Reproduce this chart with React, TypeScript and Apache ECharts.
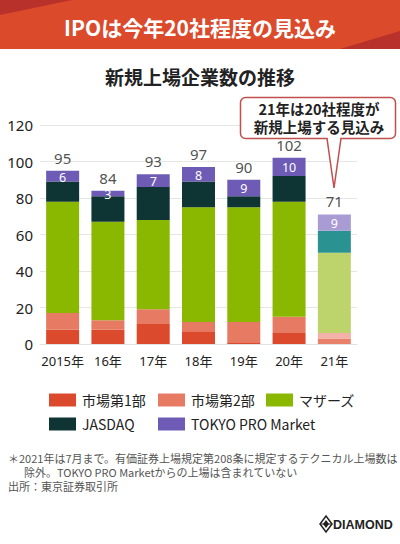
import React, { useEffect, useRef } from "react";
import * as echarts from "echarts";

const categories = ["2015年", "16年", "17年", "18年", "19年", "20年", "21年"];
const seriesNames = ["市場第1部", "市場第2部", "マザーズ", "JASDAQ", "TOKYO PRO Market"];
const first = [8, 8, 11, 7, 1, 6, 3];
const second = [9, 5, 8, 5, 11, 9, 3];
const mothers = [61, 54, 49, 63, 63, 63, 44];
const jasdaq = [11, 14, 18, 14, 6, 14, 12];
const tpm = [6, 3, 7, 8, 9, 10, 9];
const yTicks = { min: 0, max: 120, interval: 20 };

const mainColors = ["#db4a2c", "#e67a63", "#8ab800", "#0e3434", "#6d5bb5"];
const lightColors = ["#e8806a", "#f3b1a7", "#bdd46c", "#2a9392", "#a99bd4"];

const FONT = "'Noto Sans', 'Noto Sans CJK JP', sans-serif";
const JP = "'Noto Sans CJK JP', 'Noto Sans', sans-serif";

export default function App() {
  const ref = useRef<HTMLDivElement>(null);
  useEffect(() => {
    if (!ref.current) return;
    const chart = echarts.init(ref.current, undefined, { renderer: "svg" });
    const allData = [first, second, mothers, jasdaq, tpm];
    const totals = categories.map((_, i) => allData.reduce((s, arr) => s + arr[i], 0));
    const lastIdx = categories.length - 1;

    const barSeries = allData.map((arr, si) => ({
      name: seriesNames[si],
      type: "bar",
      stack: "total",
      barWidth: 33,
      itemStyle: { color: mainColors[si] },
      label:
        si === 4
          ? { show: true, position: "inside", color: "#fff", fontSize: 12.5, fontFamily: FONT, offset: [0, 1] }
          : { show: false },
      data: arr.map((v, i) =>
        i === lastIdx ? { value: v, itemStyle: { color: lightColors[si] } } : v
      ),
    }));

    const legendPos = [
      [49, 393],
      [158, 393],
      [266, 393],
      [49, 417],
      [158, 417],
    ];
    const legends = seriesNames.map((n, i) => ({
      data: [n],
      left: legendPos[i][0],
      top: legendPos[i][1],
      padding: 0,
      itemWidth: 27,
      itemHeight: 13,
      selectedMode: false,
      icon: "rect",
      textStyle: { fontSize: 14, color: "#222", fontFamily: JP, padding: [0, 0, 0, 1] },
    }));

    chart.setOption({
      animation: false,
      backgroundColor: "#fff",
      grid: { left: 40, right: 43, top: 125, bottom: 200 },
      legend: legends,
      xAxis: {
        type: "category",
        data: categories,
        axisLine: { show: true, lineStyle: { color: "#e2e2e2" } },
        axisTick: { show: false },
        axisLabel: { interval: 0, fontSize: 13, color: "#222", margin: 10, fontFamily: FONT },
      },
      yAxis: {
        type: "value",
        min: yTicks.min,
        max: yTicks.max,
        interval: yTicks.interval,
        axisLine: { show: false },
        axisTick: { show: false },
        splitLine: { lineStyle: { color: "#e6e6e6" } },
        axisLabel: { fontSize: 15, color: "#222", margin: 7, fontFamily: FONT },
      },
      series: [
        ...barSeries,
        {
          name: "total",
          type: "scatter",
          symbolSize: 1,
          itemStyle: { color: "rgba(0,0,0,0)" },
          label: {
            show: true,
            position: "top",
            distance: 5,
            fontSize: 15,
            color: "#222",
            fontFamily: FONT,
          },
          data: totals,
          z: 5,
        },
      ],
      graphic: [
        { type: "rect", shape: { x: 0, y: 0, width: 400, height: 49 }, style: { fill: "#dc4a2c" }, z: 1 },
        { type: "polygon", shape: { points: [[0, 0], [72, 0], [0, 15]] }, style: { fill: "#b8312b" }, z: 2 },
        { type: "polygon", shape: { points: [[340, 49], [400, 31], [400, 49]] }, style: { fill: "#b8312b" }, z: 2 },
        {
          type: "text",
          x: 200,
          y: 27,
          style: {
            text: "IPOは今年20社程度の見込み",
            fill: "#fff",
            fontSize: 21,
            fontWeight: "bold",
            fontFamily: JP,
            textAlign: "center",
            textVerticalAlign: "middle",
          },
          z: 3,
        },
        {
          type: "text",
          x: 200,
          y: 76,
          style: {
            text: "新規上場企業数の推移",
            fill: "#222",
            fontSize: 19,
            fontWeight: "bold",
            fontFamily: JP,
            textAlign: "center",
            textVerticalAlign: "middle",
          },
        },
        {
          type: "rect",
          shape: { x: 240.5, y: 97.5, width: 155, height: 41, r: 5 },
          style: { fill: "#fff", stroke: "#c0504d", lineWidth: 1.5 },
          z: 10,
        },
        {
          type: "polygon",
          shape: { points: [[327.5, 137], [340.5, 137], [334, 186]] },
          style: { fill: "#fff" },
          z: 11,
        },
        {
          type: "polyline",
          shape: { points: [[327, 138.3], [334, 188], [341, 138.3]] },
          style: { stroke: "#c0504d", lineWidth: 1.5, fill: null },
          z: 12,
        },
        {
          type: "text",
          x: 319,
          y: 117.5,
          style: {
            text: "21年は20社程度が\n新規上場する見込み",
            fill: "#222",
            fontSize: 14.5,
            lineHeight: 18,
            fontWeight: "bold",
            fontFamily: JP,
            textAlign: "center",
            textVerticalAlign: "middle",
          },
          z: 13,
        },
        {
          type: "text",
          x: 8,
          y: 472,
          style: {
            text:
              "＊2021年は7月まで。有価証券上場規定第208条に規定するテクニカル上場数は\n　  除外。TOKYO PRO Marketからの上場は含まれていない\n出所：東京証券取引所",
            fill: "#555",
            fontSize: 11,
            lineHeight: 14,
            fontFamily: JP,
            textAlign: "left",
            textVerticalAlign: "middle",
          },
        },
        {
          type: "polygon",
          shape: { points: [[326, 516], [332, 524], [326, 532], [320, 524]] },
          style: { fill: "none", stroke: "#222", lineWidth: 1.5 },
        },
        {
          type: "polygon",
          shape: { points: [[326, 520], [329, 524], [326, 528], [323, 524]] },
          style: { fill: "#222" },
        },
        {
          type: "line",
          shape: { x1: 320, y1: 524, x2: 332, y2: 524 },
          style: { stroke: "#222", lineWidth: 1 },
        },
        {
          type: "text",
          x: 333,
          y: 524.5,
          style: {
            text: "DIAMOND",
            fill: "#222",
            fontSize: 12.5,
            fontWeight: "bold",
            fontFamily: "'Liberation Sans', Arial, sans-serif",
            textAlign: "left",
            textVerticalAlign: "middle",
          },
        },
      ],
    });
    return () => chart.dispose();
  }, []);
  return (
    <div
      ref={ref}
      style={{ position: "absolute", left: 0, top: 0, width: 400, height: 544 }}
    />
  );
}
